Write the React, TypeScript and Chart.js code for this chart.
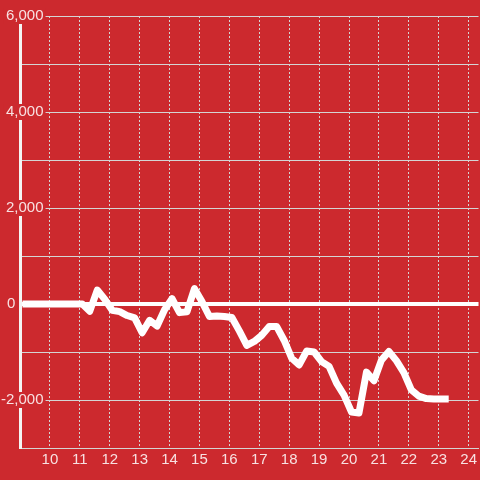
import React, { useEffect, useRef } from "react";
import { Chart, registerables } from "chart.js";

Chart.register(...registerables);

const BG = "#cc292e";
const GRID = "#d4d4d4";
const LABEL = "rgba(255,255,255,0.86)";
const FONT = { family: "'Liberation Sans', Arial, sans-serif", size: 15 };

const times: string[] = [
  "9:05", "9:20", "9:35", "9:50", "10:05", "10:20", "10:35", "10:50",
  "11:05", "11:20", "11:35", "11:50", "12:05", "12:20", "12:35", "12:50",
  "13:05", "13:20", "13:35", "13:50", "14:05", "14:20", "14:35", "14:50",
  "15:05", "15:20", "15:35", "15:50", "16:05", "16:20", "16:35", "16:50",
  "17:05", "17:20", "17:35", "17:50", "18:05", "18:20", "18:35", "18:50",
  "19:05", "19:20", "19:35", "19:50", "20:05", "20:20", "20:35", "20:50",
  "21:05", "21:20", "21:35", "21:50", "22:05", "22:20", "22:35", "22:50",
  "23:05", "23:20",
];

const values: number[] = [
  0, 0, 0, 0, 0, 0, 0, 0,
  0, -150, 290, 100, -130, -160, -240, -290,
  -600, -340, -460, -120, 110, -180, -160, 320,
  50, -260, -250, -260, -280, -560, -860, -780,
  -650, -470, -470, -760, -1130, -1270, -980, -1000,
  -1200, -1300, -1650, -1900, -2250, -2270, -1420, -1600,
  -1170, -990, -1180, -1430, -1790, -1920, -1970, -1980,
  -1980, -1980,
];

const xTicks: number[] = [10, 11, 12, 13, 14, 15, 16, 17, 18, 19, 20, 21, 22, 23, 24];
const yGrid: number[] = [-3000, -2000, -1000, 0, 1000, 2000, 3000, 4000, 5000, 6000];
const yLabelled: number[] = [-2000, 2000, 4000, 6000];

const X_MIN = 9;
const X_MAX = 24.33;
const Y_MIN = -3000;
const Y_MAX = 6000;

function toHours(t: string): number {
  const [h, m] = t.split(":").map(Number);
  return h + m / 60;
}

export default function App() {
  const ref = useRef<HTMLCanvasElement | null>(null);

  useEffect(() => {
    if (!ref.current) return;
    const points = times.map((t, i) => ({ x: toHours(t), y: values[i] }));
    const chart = new Chart(ref.current, {
      type: "line",
      data: {
        datasets: [
          {
            data: points,
            borderColor: "#ffffff",
            borderWidth: 7,
            pointRadius: 0,
            tension: 0,
            borderJoinStyle: "round",
            borderCapStyle: "butt",
            fill: false,
          },
        ],
      },
      options: {
        animation: false,
        responsive: true,
        maintainAspectRatio: false,
        layout: { padding: { top: 16, left: 0, right: 0, bottom: 0 } },
        plugins: { legend: { display: false }, tooltip: { enabled: false } },
        scales: {
          x: {
            type: "linear",
            min: X_MIN,
            max: X_MAX,
            afterBuildTicks: (s: any) => {
              s.ticks = xTicks.map((v) => ({ value: v }));
            },
            afterFit: (s: any) => {
              s.height = 32;
            },
            grid: { color: GRID, lineWidth: 1, drawTicks: false },
            border: { display: true, color: GRID, width: 1, dash: [2, 2] },
            ticks: {
              color: LABEL,
              font: FONT,
              padding: 3,
              maxRotation: 0,
              autoSkip: false,
              callback: (v: any) => String(v),
            },
          },
          y: {
            type: "linear",
            position: "left",
            min: Y_MIN,
            max: Y_MAX,
            afterBuildTicks: (s: any) => {
              s.ticks = yGrid.map((v) => ({ value: v }));
            },
            afterFit: (s: any) => {
              s.width = 20;
            },
            grid: {
              color: (ctx: any) => (ctx.tick && ctx.tick.value === 0 ? "#ffffff" : GRID),
              lineWidth: (ctx: any) => (ctx.tick && ctx.tick.value === 0 ? 4 : 1),
              drawTicks: false,
            },
            border: { display: true, color: "#f4f4f4", width: 3 },
            ticks: {
              color: LABEL,
              font: FONT,
              mirror: true,
              crossAlign: "far",
              padding: -19,
              callback: (v: any) =>
                yLabelled.includes(Number(v)) ? Number(v).toLocaleString("en-US") : "",
              showLabelBackdrop: (ctx: any) => !!ctx.tick && yLabelled.includes(ctx.tick.value),
              backdropColor: BG,
              backdropPadding: { top: -1, bottom: -1, left: 2, right: 2 },
            },
          },
          y2: {
            type: "linear",
            position: "left",
            min: Y_MIN,
            max: Y_MAX,
            afterBuildTicks: (s: any) => {
              s.ticks = [{ value: 0 }];
            },
            afterFit: (s: any) => {
              s.width = 0;
            },
            grid: { display: false, drawTicks: false },
            border: { display: false },
            ticks: {
              color: LABEL,
              font: FONT,
              mirror: true,
              crossAlign: "far",
              padding: 7,
              callback: () => "0",
              showLabelBackdrop: true,
              backdropColor: BG,
              backdropPadding: { top: -1, bottom: -1, left: 2, right: 2 },
            },
          },
        },
      },
    } as any);
    return () => chart.destroy();
  }, []);

  return (
    <div
      style={{
        position: "fixed",
        left: 0,
        top: 0,
        width: 480,
        height: 480,
        background: BG,
      }}
    >
      <canvas ref={ref} />
    </div>
  );
}
